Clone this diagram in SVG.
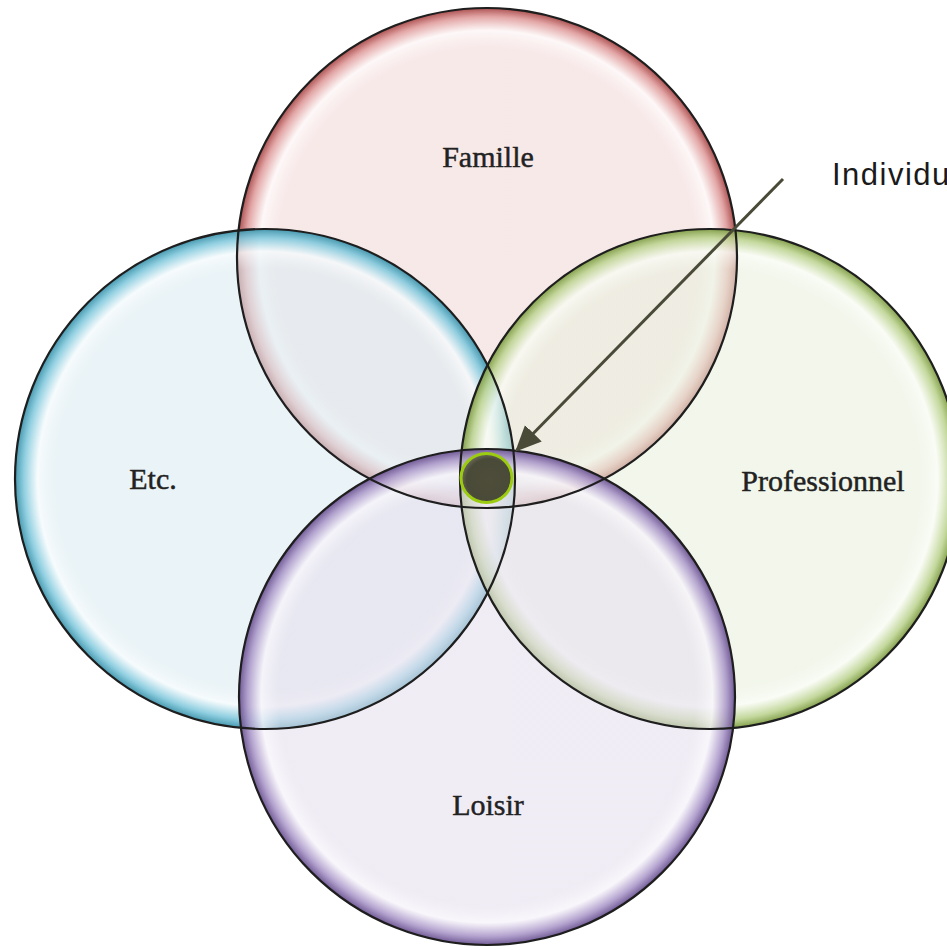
<svg xmlns="http://www.w3.org/2000/svg" width="947" height="950" viewBox="0 0 947 950">
  <style>
    .ring { stroke: #1e1e1e; stroke-width: 2.2; fill: none; }
    .lbl { font-family: "Liberation Serif", "DejaVu Serif", serif; font-size: 30px; fill: #222; stroke: #222; stroke-width: 0.45; text-anchor: middle; }
    .call { font-family: "Liberation Sans", Arial, sans-serif; font-size: 31px; fill: #1a1a1a; letter-spacing: 1.5px; }
    .conn { stroke: #4a4a38; stroke-width: 3; fill: none; }
  </style>
  <defs>
    <radialGradient id="gRed" cx="50%" cy="50%" r="50%">
      <stop offset="0" stop-color="#f3dada" stop-opacity="0.6"/>
      <stop offset="0.84" stop-color="#f3dada" stop-opacity="0.6"/>
      <stop offset="0.91" stop-color="#fdf6f6" stop-opacity="0.8"/>
      <stop offset="0.965" stop-color="#df9a9a" stop-opacity="0.88"/>
      <stop offset="1" stop-color="#a84848" stop-opacity="0.95"/>
    </radialGradient>
    <radialGradient id="gBlue" cx="50%" cy="50%" r="50%">
      <stop offset="0" stop-color="#dcebf1" stop-opacity="0.6"/>
      <stop offset="0.84" stop-color="#dcebf1" stop-opacity="0.6"/>
      <stop offset="0.91" stop-color="#f4fafc" stop-opacity="0.8"/>
      <stop offset="0.965" stop-color="#80c8dc" stop-opacity="0.88"/>
      <stop offset="1" stop-color="#3d93ab" stop-opacity="0.95"/>
    </radialGradient>
    <radialGradient id="gGreen" cx="50%" cy="50%" r="50%">
      <stop offset="0" stop-color="#e9f0de" stop-opacity="0.6"/>
      <stop offset="0.84" stop-color="#e9f0de" stop-opacity="0.6"/>
      <stop offset="0.91" stop-color="#f8fbf3" stop-opacity="0.8"/>
      <stop offset="0.965" stop-color="#bcd390" stop-opacity="0.88"/>
      <stop offset="1" stop-color="#7e9c44" stop-opacity="0.95"/>
    </radialGradient>
    <radialGradient id="gPurple" cx="50%" cy="50%" r="50%">
      <stop offset="0" stop-color="#e6e0ee" stop-opacity="0.6"/>
      <stop offset="0.84" stop-color="#e6e0ee" stop-opacity="0.6"/>
      <stop offset="0.91" stop-color="#f7f4fa" stop-opacity="0.8"/>
      <stop offset="0.965" stop-color="#a996c8" stop-opacity="0.88"/>
      <stop offset="1" stop-color="#6a5290" stop-opacity="0.95"/>
    </radialGradient>
    <radialGradient id="gCore" cx="55%" cy="55%" r="55%">
      <stop offset="0" stop-color="#4d4d3a"/>
      <stop offset="0.8" stop-color="#4a4a38"/>
      <stop offset="1" stop-color="#6a6a58"/>
    </radialGradient>
    <marker id="arrowBig" viewBox="0 0 10 10" refX="9" refY="5" markerWidth="26" markerHeight="26" markerUnits="userSpaceOnUse" orient="auto">
      <path d="M0,0.5 L10,5 L0,9.5 z" fill="#4a4a38"/>
    </marker>
  </defs>
  <rect width="947" height="950" fill="#ffffff"/>

  <g id="famille">
    <circle cx="487" cy="258" r="250" fill="url(#gRed)"/>
  </g>
  <g id="etc">
    <circle cx="265" cy="479" r="250" fill="url(#gBlue)"/>
  </g>
  <g id="professionnel">
    <circle cx="710" cy="479" r="250" fill="url(#gGreen)"/>
  </g>
  <g id="loisir">
    <circle cx="487" cy="697" r="248" fill="url(#gPurple)"/>
  </g>

  <g id="outlines">
    <circle class="ring" cx="487" cy="258" r="250"/>
    <circle class="ring" cx="265" cy="479" r="250"/>
    <circle class="ring" cx="710" cy="479" r="250"/>
    <circle class="ring" cx="487" cy="697" r="248"/>
  </g>

  <g id="labels">
    <text class="lbl" x="488" y="167">Famille</text>
    <text class="lbl" x="153" y="489">Etc.</text>
    <text class="lbl" x="823" y="491">Professionnel</text>
    <text class="lbl" x="488" y="815">Loisir</text>
  </g>

  <g id="individu">
    <ellipse cx="486.5" cy="478" rx="25.5" ry="24.5" fill="url(#gCore)" stroke="#9ccc10" stroke-width="3"/>
    <text class="call" x="832" y="185">Individu</text>
  </g>

  <g id="connectors">
    <line class="conn" x1="783" y1="179" x2="517" y2="450" marker-end="url(#arrowBig)"/>
  </g>
</svg>
